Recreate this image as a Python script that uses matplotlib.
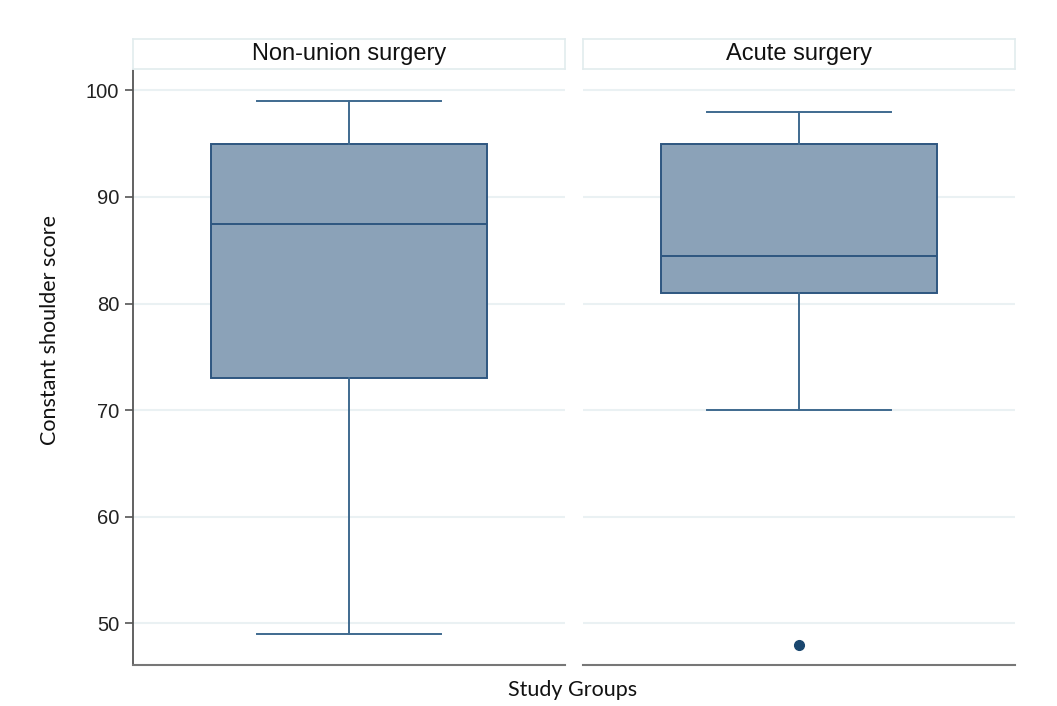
import matplotlib
matplotlib.use("Agg")
import matplotlib.pyplot as plt

groups = ["Non-union surgery", "Acute surgery"]
whislo = [49, 70]
q1 = [73, 81]
med = [87.5, 84.5]
q3 = [95, 95]
whishi = [99, 98]
fliers = [[], [48]]
yticks = [50, 60, 70, 80, 90, 100]

fig = plt.figure(figsize=(10.57, 7.06), dpi=100)
fig.patch.set_facecolor("white")

W = 1057.0
H = 706.0
lefts = [133 / W, 583 / W]
pw = 432 / W
bottom = (H - 665) / H
height = (665 - 70) / H
strip_b = (H - 69) / H
strip_h = 30 / H

box_fill = "#8ba2b8"
box_edge = "#2e5680"
line_col = "#3f6a8f"
grid_col = "#eaf1f3"

for i, g in enumerate(groups):
    ax = fig.add_axes([lefts[i], bottom, pw, height])
    stats = [dict(whislo=whislo[i], q1=q1[i], med=med[i], q3=q3[i],
                  whishi=whishi[i], fliers=fliers[i], label=g)]
    ax.bxp(stats, positions=[0.5], widths=0.64, patch_artist=True,
           showfliers=True,
           boxprops=dict(facecolor=box_fill, edgecolor=box_edge, linewidth=1.4),
           medianprops=dict(color=box_edge, linewidth=1.4),
           whiskerprops=dict(color=line_col, linewidth=1.4),
           capprops=dict(color=line_col, linewidth=1.4),
           capwidths=0.425,
           flierprops=dict(marker="o", markerfacecolor="#1a476f",
                           markeredgecolor="#1a476f", markersize=7))
    ax.set_xlim(0, 1)
    ax.set_ylim(46.1, 101.9)
    ax.set_yticks(yticks)
    ax.yaxis.grid(True, color=grid_col, linewidth=1.5)
    ax.set_axisbelow(True)
    ax.set_xticks([])
    for s in ["top", "right"]:
        ax.spines[s].set_visible(False)
    ax.spines["bottom"].set_color("#777777")
    ax.spines["bottom"].set_linewidth(1.5)
    if i == 0:
        ax.spines["left"].set_color("#555555")
        ax.spines["left"].set_linewidth(1.3)
        ax.tick_params(axis="y", direction="out", length=6, width=1.2,
                       color="#555555", labelsize=14.5, labelcolor="#222222", pad=4)
        for lab in ax.get_yticklabels():
            lab.set_fontfamily("Liberation Sans")
    else:
        ax.spines["left"].set_visible(False)
        ax.tick_params(axis="y", left=False, labelleft=False)
    sax = fig.add_axes([lefts[i], strip_b, pw, strip_h])
    sax.set_xticks([])
    sax.set_yticks([])
    for s in sax.spines.values():
        s.set_color("#e2ecee")
        s.set_linewidth(1.2)
    sax.text(0.5, 0.5, g, ha="center", va="center", fontsize=17,
             family="Liberation Sans", color="#111111", transform=sax.transAxes)

fig.text(50 / W, 1 - 330 / H, "Constant shoulder score", rotation=90,
         ha="center", va="center", fontsize=15.5, family="Lato", color="#111111")
fig.text(573 / W, 1 - 690 / H, "Study Groups", ha="center", va="center",
         fontsize=15.5, family="Lato", color="#111111")

fig.savefig("out.png", dpi=100, facecolor="white")
